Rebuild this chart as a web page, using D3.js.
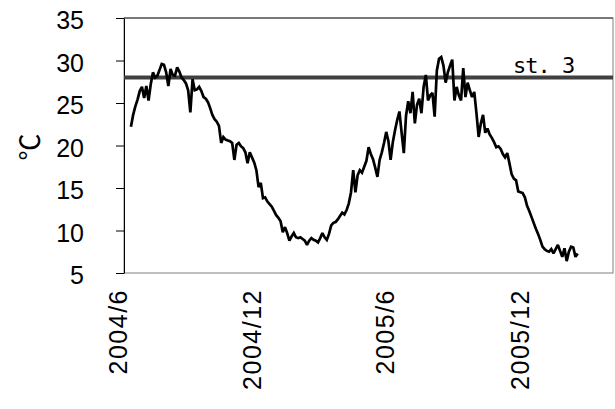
<!DOCTYPE html>
<html>
<head>
<meta charset="utf-8">
<script src="https://cdn.jsdelivr.net/npm/d3@7"></script>
<style>
  html, body { margin: 0; padding: 0; background: #fff; }
  svg { display: block; }
</style>
</head>
<body>
<svg id="chart" width="615" height="409"></svg>
<script>
// Water temperature at station 3, sampled every 3 days
const seriesStart = "2004-06-20";
const stepDays = 3;
const temps = [
  22.2, 23.6, 24.6, 25.4, 26.4, 26.9, 25.6, 27.0, 25.3, 27.2,
  28.6, 28.0, 28.2, 28.9, 29.6, 29.5, 28.6, 27.0, 29.0, 28.3,
  28.2, 29.2, 28.7, 28.0, 27.7, 27.3, 26.5, 23.9, 27.8, 26.5,
  26.6, 26.9, 26.4, 25.7, 25.5, 25.1, 24.4, 23.6, 23.1, 22.8,
  22.3, 20.3, 21.0, 20.7, 20.6, 20.5, 20.3, 18.3, 20.1, 20.3,
  19.9, 19.7, 19.2, 17.9, 19.2, 18.6, 18.0, 17.1, 15.1, 15.6,
  13.8, 13.9, 13.4, 13.1, 12.8, 12.3, 11.8, 11.5, 11.1, 9.8,
  10.4, 9.7, 8.8, 9.3, 9.7, 9.2, 9.1, 9.2, 9.0, 8.8,
  8.3, 8.8, 9.1, 8.9, 8.8, 8.6, 9.1, 9.7, 9.2, 8.9,
  9.6, 10.6, 10.9, 11.0, 11.3, 11.7, 12.1, 11.9, 12.4, 13.2,
  14.5, 17.1, 14.5, 16.5, 17.1, 16.8, 17.5, 18.2, 19.8, 19.0,
  18.4, 17.4, 16.3, 18.3, 19.2, 20.3, 21.6, 20.5, 18.3, 20.4,
  21.8, 23.0, 24.0, 21.5, 19.1, 23.5, 25.2, 23.8, 26.3, 22.6,
  24.8, 25.5, 23.8, 26.9, 28.3, 25.3, 25.9, 26.2, 23.4, 28.8,
  30.2, 30.4, 29.4, 27.4, 28.6, 29.4, 30.1, 25.3, 26.9, 25.9,
  25.3, 29.1, 25.7, 27.4, 26.5, 25.7, 26.3, 23.8, 21.0, 22.6,
  23.6, 21.5, 22.0, 21.3, 20.9, 20.4, 19.8, 19.9, 19.6, 19.0,
  18.6, 19.1, 17.9, 16.6, 16.1, 15.9, 14.6, 14.5, 14.4, 13.9,
  12.9, 12.3, 11.6, 10.9, 10.2, 9.6, 8.9, 8.1, 7.8, 7.6,
  7.5, 7.8, 7.3, 7.8, 8.3, 7.6, 6.9, 7.9, 6.4, 7.5,
  8.1, 8.0, 6.9, 7.3
];
const referenceTemp = 28;
const referenceLabel = "st. 3";
const yTicks = [5, 10, 15, 20, 25, 30, 35];
const xTickDates = ["2004-06-01", "2004-12-01", "2005-06-01", "2005-12-01"];
const unitLabel = "℃";

const parse = d3.timeParse("%Y-%m-%d");
const start = parse(seriesStart);
const data = temps.map((t, i) => ({ date: d3.timeDay.offset(start, i * stepDays), value: t }));

const svg = d3.select("#chart");
const plot = { left: 124, right: 613, top: 18, bottom: 273 };

const x = d3.scaleTime()
  .domain([parse("2004-06-01"), parse("2005-12-01")])
  .range([117, 519]);
const y = d3.scaleLinear().domain([5, 35]).range([plot.bottom, plot.top]);

const labelFont = "'Liberation Sans', Arial, sans-serif";

// plot frame
svg.append("rect")
  .attr("x", plot.left).attr("y", plot.top)
  .attr("width", plot.right - plot.left).attr("height", plot.bottom - plot.top)
  .attr("fill", "none").attr("stroke", "#808080").attr("stroke-width", 1);
svg.append("line")
  .attr("x1", plot.left).attr("x2", plot.right)
  .attr("y1", y(35)).attr("y2", y(35))
  .attr("stroke", "#333").attr("stroke-width", 1);

// y axis
const yAxis = svg.append("g")
  .attr("transform", `translate(${plot.left},0)`)
  .call(d3.axisLeft(y).tickValues(yTicks).tickSize(8).tickPadding(32).tickSizeOuter(0));
yAxis.select(".domain").attr("stroke", "#000");
yAxis.selectAll(".tick line").attr("stroke", "#000");
yAxis.selectAll("text")
  .attr("font-family", labelFont).attr("font-size", 25).attr("fill", "#000")
  .attr("dy", "0.42em");

// x axis labels (rotated)
const xAxis = svg.append("g")
  .attr("transform", `translate(0,${plot.bottom})`)
  .call(d3.axisBottom(x)
    .tickValues(xTickDates.map(parse))
    .tickFormat(d3.timeFormat("%Y/%-m"))
    .tickSize(0));
xAxis.select(".domain").remove();
xAxis.selectAll("text")
  .attr("font-family", labelFont).attr("font-size", 25).attr("fill", "#000")
  .attr("letter-spacing", 1.5)
  .attr("transform", "rotate(-90)")
  .attr("text-anchor", "end")
  .attr("x", -16).attr("y", 0)
  .attr("dy", "0.36em");

// unit label
svg.append("text")
  .attr("transform", "translate(28,147) rotate(-90)")
  .attr("text-anchor", "middle")
  .attr("dominant-baseline", "central")
  .attr("font-family", "'Noto Sans CJK JP', sans-serif")
  .attr("font-size", 27)
  .text(unitLabel);

// reference line
svg.append("line")
  .attr("x1", plot.left).attr("x2", plot.right)
  .attr("y1", y(referenceTemp)).attr("y2", y(referenceTemp))
  .attr("stroke", "#404040").attr("stroke-width", 4);

svg.append("text")
  .attr("x", 513).attr("y", 73)
  .attr("font-family", "'DejaVu Sans Mono', monospace")
  .attr("font-size", 22)
  .attr("letter-spacing", -1)
  .attr("fill", "#000")
  .attr("xml:space", "preserve")
  .style("white-space", "pre")
  .text(referenceLabel);

// temperature series
const line = d3.line().x(d => x(d.date)).y(d => y(d.value));
svg.append("path")
  .datum(data)
  .attr("fill", "none")
  .attr("stroke", "#000")
  .attr("stroke-width", 2.7)
  .attr("stroke-linejoin", "miter")
  .attr("stroke-miterlimit", 2)
  .attr("d", line);
</script>
</body>
</html>
